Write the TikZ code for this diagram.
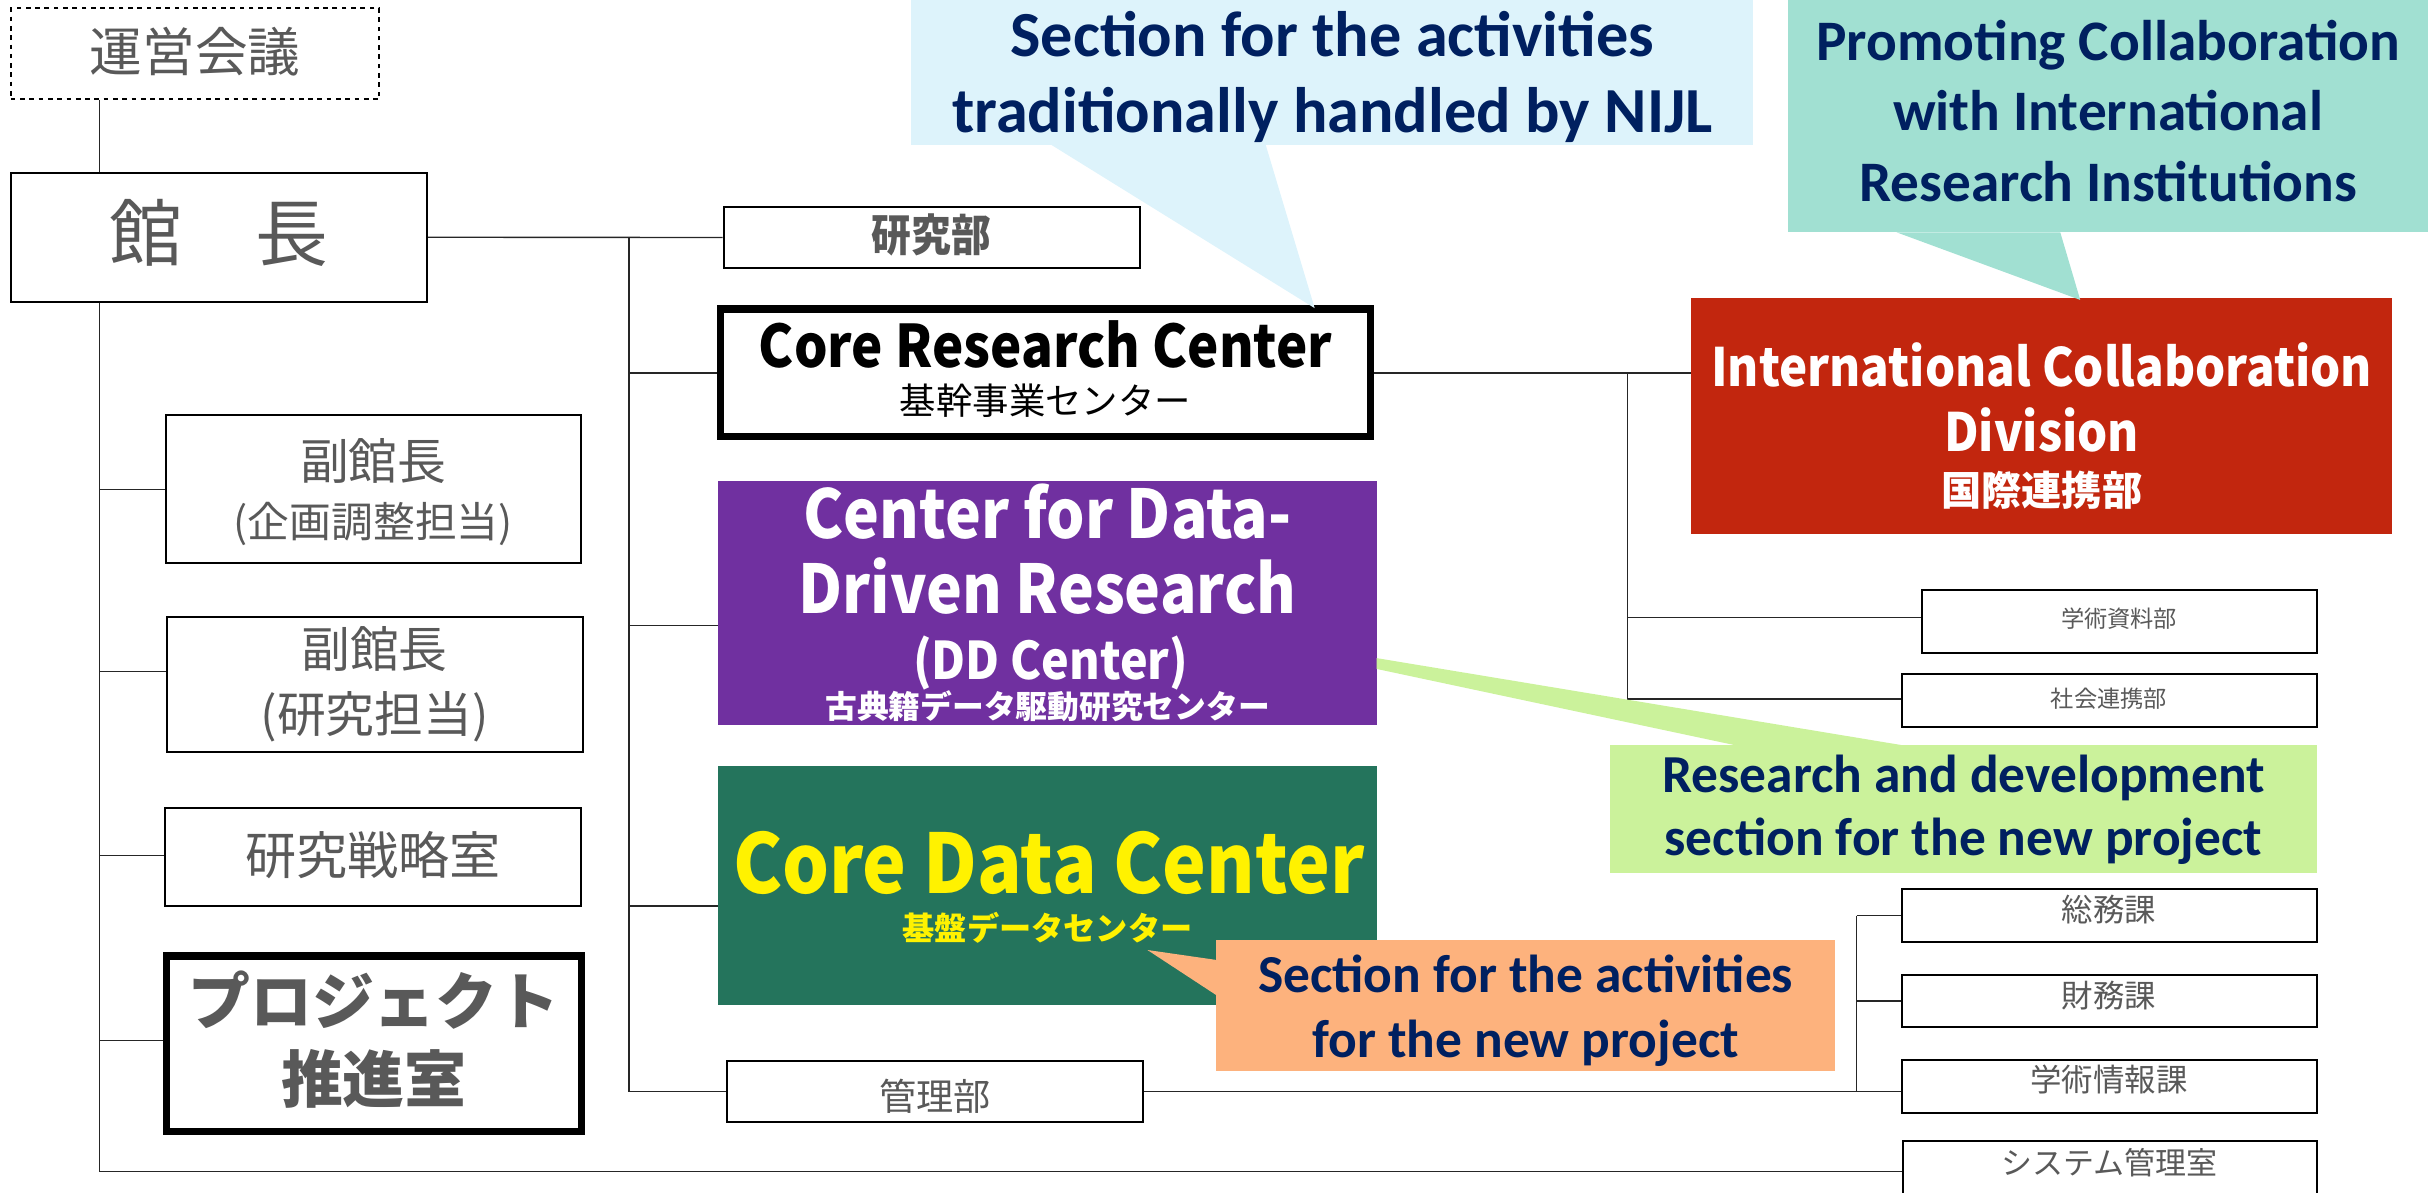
\documentclass[tikz,border=0pt]{standalone}
\usepackage{fontspec}
\newfontfamily\jp{Noto Sans CJK JP}
\newfontfamily\jpc[FakeStretch=0.9]{Noto Sans CJK JP}
\newfontfamily\callfont{Carlito}
\definecolor{txtgray}{HTML}{595959}
\definecolor{navy}{HTML}{002060}
\definecolor{cblue}{HTML}{DDF3FB}
\definecolor{cteal}{HTML}{A1E0D2}
\definecolor{cgreen}{HTML}{CBF29B}
\definecolor{corange}{HTML}{FDB27D}
\definecolor{ddpurple}{HTML}{7030A0}
\definecolor{cdgreen}{HTML}{24745C}
\definecolor{icred}{HTML}{C2260E}
\newcommand\fsz[2]{\fontsize{#1}{#2}\selectfont}
\tikzset{
  box/.style={draw=black, line width=1.3pt, fill=white, inner sep=0pt},
  thickbox/.style={box, line width=4.7pt},
  colbox/.style={draw=none, inner sep=0pt},
  lbl/.style={anchor=base, inner sep=0pt, text=txtgray, font=\jp},
  wlbl/.style={anchor=base, inner sep=0pt, text=white, font=\jp},
  conn/.style={draw=black!85, line width=0.9pt},
  callbox/.style={inner sep=0pt, align=center, text=navy, font=\callfont\bfseries},
}
\begin{document}
\begin{tikzpicture}[x=1pt,y=-1pt]
\useasboundingbox (0,0) rectangle (1568,770);
% bus coordinates
\coordinate (b1) at (64.3,0);
\coordinate (b2) at (406.2,0);
\coordinate (b3) at (1051,0);
\coordinate (b4) at (1199,0);

% ---------------- boxes ----------------
\node[box, dashed, minimum width=238, minimum height=58.7] (unei) at (126,34.8) {};
\node[lbl, font=\jp\fsz{34}{40}] (uneiT) at (126,46) {運営会議};

\node[box, minimum width=269, minimum height=83.3] (kancho) at (141.4,153.2) {};
\node[lbl, font=\jp\fsz{47}{50}] (kanchoT) at (141.4,168.5) {館　長};

\node[box, minimum width=267.8, minimum height=95.4] (fuku1) at (241.1,315.7) {};
\node[lbl, font=\jp\fsz{31.5}{36}] (fuku1A) at (241.1,309.6) {副館長};
\node[lbl, font=\jp\fsz{27}{32}] (fuku1B) at (241.1,347) {(企画調整担当)};

\node[box, minimum width=268.7, minimum height=86.9] (fuku2) at (241.9,442) {};
\node[lbl, font=\jp\fsz{31.5}{36}] (fuku2A) at (241.9,431) {副館長};
\node[lbl, font=\jp\fsz{31.5}{36}] (fuku2B) at (241.9,473) {(研究担当)};

\node[box, minimum width=268.7, minimum height=63.1] (senryaku) at (241,553.3) {};
\node[lbl, font=\jp\fsz{33}{38}] (senryakuT) at (241,565) {研究戦略室};

\node[thickbox, minimum width=268, minimum height=113.4] (pj) at (241.5,674) {};
\node[lbl, font=\jp\bfseries\fsz{40}{46}] (pjA) at (241.5,661.5) {プロジェクト};
\node[lbl, font=\jp\bfseries\fsz{40}{46}] (pjB) at (241.5,712) {推進室};

\node[box, minimum width=268.7, minimum height=39.8] (kenkyubu) at (601.6,153.4) {};
\node[lbl, font=\jpc\bfseries\fsz{28.5}{30}] (kenkyubuT) at (601.6,162.5) {研究部};

\node[thickbox, minimum width=420, minimum height=82.6] (crc) at (675.2,240.8) {};
\node[lbl, text=black, font=\jpc\bfseries\fsz{37.9}{42}] (crcA) at (675.2,237.5) {Core Research Center};
\node[lbl, text=black, font=\jp\fsz{23.5}{26}] (crcB) at (675.2,267.5) {基幹事業センター};

\node[colbox, fill=ddpurple, minimum width=425, minimum height=157.4] (dd) at (676.5,389.3) {};
\node[wlbl, font=\jpc\bfseries\fsz{43.4}{48}] (ddA) at (676.5,347.5) {Center for Data-};
\node[wlbl, font=\jpc\bfseries\fsz{43.4}{48}] (ddB) at (676.5,396) {Driven Research};
\node[wlbl, font=\jpc\bfseries\fsz{33.5}{38}] (ddC) at (678.5,438.5) {(DD Center)};
\node[wlbl, font=\jp\bfseries\fsz{20.5}{24}] (ddD) at (676.5,464) {古典籍データ駆動研究センター};

\node[colbox, fill=cdgreen, minimum width=425, minimum height=154] (cdc) at (676.5,572) {};
\node[wlbl, text=yellow, font=\jpc\bfseries\fsz{53}{58}] (cdcA) at (677.5,577) {Core Data Center};
\node[wlbl, text=yellow, font=\jp\bfseries\fsz{20.8}{24}] (cdcB) at (676.5,607.5) {基盤データセンター};

\node[box, minimum width=268.3, minimum height=39.6] (kanri) at (603.9,705) {};
\node[lbl, font=\jp\fsz{24}{28}] (kanriT) at (603.9,717) {管理部};

\node[colbox, fill=icred, minimum width=453, minimum height=152.2] (intl) at (1318.5,268.7) {};
\node[wlbl, font=\jpc\bfseries\fsz{34.1}{38}] (intlA) at (1318.5,249.7) {International Collaboration};
\node[wlbl, font=\jpc\bfseries\fsz{34.1}{38}] (intlB) at (1318.5,291.7) {Division};
\node[wlbl, font=\jp\bfseries\fsz{26}{30}] (intlC) at (1318.5,326.5) {国際連携部};

\node[box, minimum width=255, minimum height=40.8] (gs) at (1368.5,401.4) {};
\node[lbl, font=\jp\fsz{15}{18}] (gsT) at (1368.5,405.5) {学術資料部};
\node[box, minimum width=268, minimum height=34] (sr) at (1362,452.5) {};
\node[lbl, font=\jp\fsz{15}{18}] (srT) at (1362,457.1) {社会連携部};
\node[box, minimum width=268, minimum height=34.7] (soumu) at (1362,591.3) {};
\node[lbl, font=\jp\fsz{20.3}{24}] (soumuT) at (1362,595.4) {総務課};
\node[box, minimum width=268, minimum height=33.5] (zaimu) at (1362,646.5) {};
\node[lbl, font=\jp\fsz{20.3}{24}] (zaimuT) at (1362,650.4) {財務課};
\node[box, minimum width=268, minimum height=34.1] (gj) at (1362,701.4) {};
\node[lbl, font=\jp\fsz{20.3}{24}] (gjT) at (1362,704.7) {学術情報課};
\node[box, minimum width=267, minimum height=40] (sys) at (1362.5,756.7) {};
\node[lbl, font=\jp\fsz{20}{24}] (sysT) at (1362.5,758.4) {システム管理室};

% ---------------- connectors ----------------
\draw[conn] (b1 |- unei.south) -- (b1 |- kancho.north);
\draw[conn] (b1 |- kancho.south) -- (b1 |- 0,756.4) -- (sys.west |- 0,756.4);
\draw[conn] (b1 |- 0,316) -- (fuku1.west |- 0,316);
\draw[conn] (b1 |- 0,433.7) -- (fuku2.west |- 0,433.7);
\draw[conn] (b1 |- 0,552.4) -- (senryaku.west |- 0,552.4);
\draw[conn] (b1 |- 0,671.8) -- (pj.west |- 0,671.8);
\draw[conn] (kancho.east) -- (kenkyubu.west);
\draw[conn] (b2 |- kancho.east) -- (b2 |- kanri.west) -- (kanri.west);
\draw[conn] (b2 |- crc.west) -- (crc.west);
\draw[conn] (b2 |- 0,404) -- (dd.west |- 0,404);
\draw[conn] (b2 |- 0,585) -- (cdc.west |- 0,585);
\draw[conn] (crc.east) -- (crc.east -| intl.west);
\draw[conn] (b3 |- crc.east) -- (b3 |- 0,451.3) -- (sr.west |- 0,451.3);
\draw[conn] (b3 |- 0,398.7) -- (gs.west |- 0,398.7);
\draw[conn] (kanri.east) -- (kanri.east -| gj.west);
\draw[conn] (b4 |- soumu.west) -- (soumu.west);
\draw[conn] (b4 |- soumu.west) -- (b4 |- kanri.east);
\draw[conn] (b4 |- zaimu.west) -- (zaimu.west);

% ---------------- callouts ----------------
\node[callbox, fill=cblue, minimum width=543.7, minimum height=93.6] (c1) at (860.45,46.8) {};
\node[callbox, font=\callfont\bfseries\fsz{41.5}{49.5}] (c1T) at (860.45,49.7)
  {Section for the activities\\traditionally handled by NIJL};
\coordinate (c1a) at (679,93.6);
\coordinate (c1b) at (817.4,93.6);
\coordinate (c1t) at (849,199);
\fill[cblue] (c1a) -- (c1t) -- (c1b) -- cycle;

\node[callbox, fill=cteal, minimum width=413.2, minimum height=150] (c2) at (1361.4,75) {};
\node[callbox, font=\callfont\bfseries\fsz{37}{45.5}] (c2T) at (1361.4,71.6)
  {Promoting Collaboration\\with International\\Research Institutions};
\coordinate (c2a) at (1224.7,150);
\coordinate (c2b) at (1330.5,150);
\coordinate (c2t) at (1343.4,193.7);
\fill[cteal] (c2a) -- (c2t) -- (c2b) -- cycle;

\node[callbox, fill=cgreen, minimum width=456, minimum height=83] (c3) at (1268,522.5) {};
\node[callbox, font=\callfont\bfseries\fsz{34.5}{41}] (c3T) at (1268,523)
  {Research and development\\section for the new project};
\coordinate (c3a) at (1121.7,481.5);
\coordinate (c3b) at (1230,481.5);
\coordinate (c3t) at (889,425);
\coordinate (c3u) at (889,432);
\fill[cgreen] (c3u) -- (c3t) -- (c3b) -- (c3a) -- cycle;

\node[callbox, fill=corange, minimum width=399.4, minimum height=84.4] (c4) at (985.3,649.2) {};
\node[callbox, font=\callfont\bfseries\fsz{34.5}{42}] (c4T) at (985.3,652.6)
  {Section for the activities\\for the new project};
\coordinate (c4a) at (786,620);
\coordinate (c4b) at (786,643);
\coordinate (c4t) at (741,613.5);
\fill[corange] (c4a) -- (c4t) -- (c4b) -- cycle;
\end{tikzpicture}
\end{document}
